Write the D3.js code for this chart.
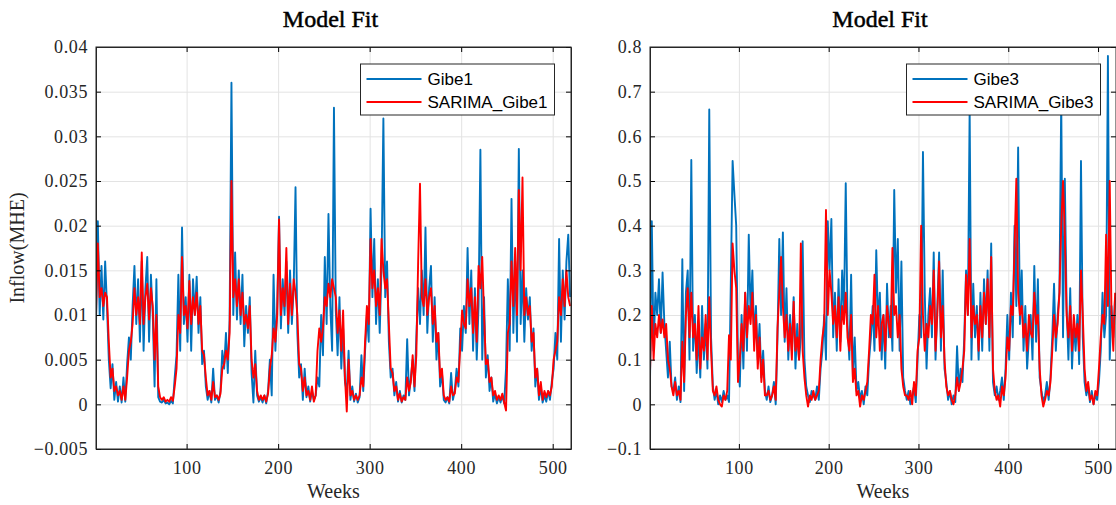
<!DOCTYPE html>
<html>
<head>
<meta charset="utf-8">
<script src="https://cdn.jsdelivr.net/npm/d3@7"></script>
<style>
  body { margin: 0; background: #fff; }
  svg { display: block; }
</style>
</head>
<body>
<svg width="1116" height="505"></svg>
<script>
// weekly inflow, sampled every 2nd week (weeks 1,3,5,...,519)
var weekStart = 1, weekStep = 2;

var gibe1 = [
  0.0090,0.0205,0.0100,0.0155,0.0095,0.0160,0.0110,0.0050,0.0018,0.0045,0.0005,0.0025,0.0003,
  0.0020,0.0002,0.0030,0.0003,0.0045,0.0075,0.0050,0.0110,0.0155,0.0090,0.0140,0.0070,0.0160,
  0.0060,0.0130,0.0165,0.0070,0.0145,0.0100,0.0020,0.0140,0.0008,0.0003,0.0002,0.0005,0.0001,
  0.0002,0.0000,0.0004,0.0001,0.0030,0.0055,0.0145,0.0060,0.0198,0.0090,0.0120,0.0070,0.0145,
  0.0060,0.0140,0.0100,0.0143,0.0080,0.0120,0.0045,0.0060,0.0020,0.0005,0.0015,0.0002,0.0040,
  0.0005,0.0010,0.0002,0.0015,0.0060,0.0040,0.0080,0.0035,0.0095,0.0360,0.0100,0.0170,0.0095,
  0.0150,0.0090,0.0145,0.0065,0.0110,0.0080,0.0120,0.0035,0.0002,0.0060,0.0010,0.0003,0.0008,
  0.0002,0.0010,0.0001,0.0015,0.0050,0.0010,0.0145,0.0060,0.0110,0.0210,0.0085,0.0140,0.0100,
  0.0160,0.0080,0.0150,0.0090,0.0130,0.0243,0.0080,0.0030,0.0045,0.0005,0.0040,0.0008,0.0020,
  0.0003,0.0015,0.0005,0.0010,0.0030,0.0020,0.0100,0.0055,0.0165,0.0090,0.0213,0.0110,0.0060,
  0.0332,0.0105,0.0055,0.0120,0.0040,0.0085,0.0025,0.0015,0.0060,0.0005,0.0020,0.0003,0.0012,
  0.0002,0.0008,0.0055,0.0015,0.0060,0.0100,0.0070,0.0219,0.0120,0.0185,0.0090,0.0140,0.0080,
  0.0155,0.0320,0.0120,0.0160,0.0070,0.0030,0.0040,0.0010,0.0025,0.0003,0.0015,0.0002,0.0010,
  0.0005,0.0073,0.0010,0.0030,0.0050,0.0015,0.0075,0.0130,0.0090,0.0150,0.0100,0.0198,0.0080,
  0.0130,0.0155,0.0070,0.0120,0.0050,0.0080,0.0020,0.0035,0.0005,0.0002,0.0008,0.0001,0.0035,
  0.0005,0.0015,0.0040,0.0020,0.0085,0.0060,0.0110,0.0080,0.0175,0.0090,0.0150,0.0060,0.0130,
  0.0050,0.0110,0.0285,0.0050,0.0120,0.0030,0.0055,0.0015,0.0030,0.0003,0.0012,0.0001,0.0008,
  0.0002,0.0010,0.0001,0.0040,0.0140,0.0060,0.0230,0.0080,0.0160,0.0070,0.0286,0.0090,0.0150,
  0.0070,0.0130,0.0095,0.0120,0.0060,0.0085,0.0020,0.0040,0.0005,0.0020,0.0002,0.0010,0.0003,
  0.0015,0.0005,0.0025,0.0040,0.0080,0.0050,0.0185,0.0070,0.0150,0.0095,0.0160,0.0190,0.0120
];

var sarimaGibe1 = [
  0.0100,0.0180,0.0120,0.0130,0.0110,0.0125,0.0120,0.0070,0.0030,0.0040,0.0015,0.0020,0.0010,
  0.0015,0.0005,0.0020,0.0005,0.0030,0.0060,0.0070,0.0090,0.0130,0.0100,0.0120,0.0090,0.0170,
  0.0090,0.0120,0.0135,0.0095,0.0130,0.0110,0.0050,0.0100,0.0020,0.0008,0.0005,0.0008,0.0003,
  0.0005,0.0003,0.0008,0.0004,0.0020,0.0040,0.0100,0.0080,0.0165,0.0100,0.0110,0.0085,0.0138,
  0.0090,0.0120,0.0100,0.0125,0.0090,0.0110,0.0060,0.0055,0.0030,0.0010,0.0015,0.0005,0.0025,
  0.0008,0.0010,0.0005,0.0012,0.0040,0.0045,0.0060,0.0050,0.0080,0.0250,0.0120,0.0140,0.0110,
  0.0140,0.0100,0.0125,0.0090,0.0100,0.0085,0.0110,0.0050,0.0030,0.0045,0.0015,0.0005,0.0010,
  0.0005,0.0010,0.0003,0.0012,0.0040,0.0055,0.0085,0.0070,0.0100,0.0207,0.0100,0.0130,0.0110,
  0.0175,0.0090,0.0135,0.0100,0.0140,0.0125,0.0100,0.0045,0.0040,0.0015,0.0030,0.0010,0.0015,
  0.0005,0.0020,0.0003,0.0010,0.0060,0.0085,0.0070,0.0085,0.0120,0.0110,0.0135,0.0120,0.0140,
  0.0130,0.0120,0.0080,0.0105,0.0060,0.0105,0.0030,-0.0008,0.0050,0.0010,0.0015,0.0005,0.0010,
  0.0005,0.0010,0.0030,0.0020,0.0070,0.0110,0.0090,0.0185,0.0130,0.0150,0.0110,0.0130,0.0100,
  0.0185,0.0150,0.0130,0.0140,0.0090,0.0040,0.0035,0.0015,0.0020,0.0005,0.0012,0.0003,0.0008,
  0.0005,0.0030,0.0015,0.0025,0.0055,0.0020,0.0055,0.0160,0.0247,0.0120,0.0110,0.0140,0.0100,
  0.0120,0.0130,0.0090,0.0110,0.0070,0.0080,0.0030,0.0040,0.0010,0.0005,0.0008,0.0003,0.0020,
  0.0010,0.0012,0.0030,0.0025,0.0065,0.0105,0.0090,0.0085,0.0140,0.0110,0.0130,0.0080,0.0120,
  0.0070,0.0155,0.0130,0.0165,0.0100,0.0045,0.0050,0.0025,0.0030,0.0010,0.0015,0.0005,0.0010,
  0.0005,0.0012,0.0002,-0.0007,0.0080,0.0090,0.0160,0.0110,0.0175,0.0100,0.0240,0.0150,0.0254,
  0.0100,0.0120,0.0100,0.0110,0.0070,0.0080,0.0030,0.0040,0.0010,0.0025,0.0005,0.0015,0.0008,
  0.0015,0.0010,0.0020,0.0050,0.0060,0.0070,0.0120,0.0100,0.0140,0.0110,0.0150,0.0120,0.0110
];

var gibe3 = [
  0.05,0.41,0.12,0.25,0.20,0.28,0.16,0.295,0.18,0.12,0.06,0.14,0.04,
  0.03,0.06,0.01,0.04,0.005,0.325,0.03,0.25,0.30,0.10,0.547,0.12,0.20,
  0.07,0.16,0.06,0.22,0.10,0.18,0.08,0.66,0.15,0.04,0.01,0.03,0.00,
  0.02,0.005,0.03,0.01,0.02,0.005,0.27,0.545,0.47,0.40,0.10,0.04,0.20,
  0.08,0.25,0.12,0.38,0.20,0.30,0.15,0.22,0.10,0.18,0.06,0.12,0.03,
  0.01,0.04,0.005,0.02,0.05,0.00,0.15,0.37,0.20,0.385,0.14,0.26,0.10,
  0.20,0.12,0.24,0.08,0.18,0.10,0.15,0.365,0.10,0.04,0.02,0.005,0.03,
  0.02,0.01,0.04,0.01,0.08,0.12,0.20,0.10,0.41,0.30,0.415,0.15,0.25,
  0.12,0.28,0.14,0.30,0.20,0.495,0.18,0.10,0.29,0.06,0.15,0.03,0.05,
  0.01,0.03,0.00,0.04,0.02,0.10,0.15,0.22,0.12,0.345,0.18,0.25,0.10,
  0.20,0.08,0.27,0.15,0.22,0.12,0.48,0.25,0.37,0.12,0.32,0.06,0.03,
  0.01,0.03,0.00,0.02,0.04,0.005,0.10,0.20,0.15,0.565,0.25,0.08,0.20,
  0.26,0.15,0.34,0.10,0.22,0.34,0.12,0.30,0.08,0.05,0.01,0.03,0.00,
  0.02,0.005,0.13,0.03,0.08,0.05,0.15,0.30,0.20,0.66,0.10,0.27,0.15,
  0.22,0.10,0.25,0.12,0.28,0.18,0.30,0.12,0.36,0.05,0.02,0.04,0.01,
  0.03,0.06,0.01,0.08,0.20,0.10,0.25,0.15,0.40,0.22,0.575,0.18,0.30,
  0.12,0.22,0.08,0.15,0.20,0.10,0.31,0.14,0.28,0.06,0.03,0.005,0.02,
  0.05,0.01,0.06,0.15,0.27,0.12,0.20,0.25,0.68,0.15,0.505,0.22,0.10,
  0.26,0.08,0.18,0.12,0.20,0.09,0.545,0.15,0.05,0.02,0.04,0.005,0.03,
  0.00,0.02,0.01,0.05,0.12,0.25,0.15,0.20,0.78,0.10,0.22,0.15,0.24
];

var sarimaGibe3 = [
  0.07,0.22,0.10,0.18,0.15,0.20,0.16,0.19,0.15,0.18,0.10,0.08,0.04,
  0.02,0.05,0.02,0.03,0.01,0.14,0.05,0.20,0.26,0.15,0.25,0.15,0.18,
  0.10,0.22,0.08,0.15,0.12,0.20,0.10,0.24,0.12,0.03,0.02,0.04,0.01,
  0.00,-0.005,0.02,0.01,0.03,0.155,0.10,0.36,0.30,0.26,0.05,0.10,0.18,
  0.12,0.25,0.15,0.22,0.18,0.25,0.12,0.20,0.08,0.15,0.05,0.10,0.02,
  0.02,0.03,0.01,0.02,0.04,0.01,0.17,0.25,0.33,0.22,0.15,0.20,0.12,
  0.18,0.10,0.23,0.12,0.15,0.10,0.36,0.12,0.06,0.02,-0.005,0.02,0.01,
  0.03,0.01,0.02,0.03,0.10,0.15,0.18,0.435,0.20,0.30,0.25,0.18,0.22,
  0.15,0.24,0.12,0.22,0.18,0.25,0.15,0.12,0.20,0.05,0.08,0.02,0.03,
  -0.005,0.02,0.01,0.03,0.05,0.12,0.20,0.18,0.29,0.15,0.22,0.12,0.18,
  0.20,0.12,0.22,0.18,0.15,0.35,0.20,0.22,0.15,0.20,0.08,0.04,0.02,
  0.02,0.01,0.03,0.00,0.05,0.02,0.12,0.15,0.40,0.20,0.12,0.18,0.15,
  0.22,0.18,0.30,0.12,0.20,0.32,0.15,0.22,0.10,0.04,0.02,0.03,0.01,
  0.00,0.02,0.06,0.03,0.05,0.08,0.12,0.29,0.20,0.37,0.15,0.22,0.18,
  0.20,0.12,0.22,0.15,0.25,0.18,0.28,0.15,0.33,0.08,0.03,0.01,0.02,
  -0.005,0.04,0.02,0.06,0.15,0.12,0.22,0.20,0.35,0.505,0.25,0.20,0.22,
  0.15,0.18,0.12,0.20,0.16,0.15,0.25,0.18,0.20,0.08,0.02,-0.005,0.01,
  0.03,0.02,0.05,0.12,0.20,0.15,0.18,0.25,0.40,0.50,0.38,0.20,0.15,
  0.22,0.12,0.20,0.15,0.18,0.12,0.30,0.20,0.08,0.03,0.05,0.01,0.02,
  0.00,0.03,0.02,0.08,0.15,0.20,0.18,0.38,0.22,0.50,0.20,0.12,0.25
];

var xTicks = [100, 200, 300, 400, 500];
var yTicksGibe1 = [-0.005, 0, 0.005, 0.01, 0.015, 0.02, 0.025, 0.03, 0.035, 0.04];
var yTicksGibe3 = [-0.1, 0, 0.1, 0.2, 0.3, 0.4, 0.5, 0.6, 0.7, 0.8];

var blue = "#0072BD", red = "#FF0000", ink = "#262626";
var serif = "'Liberation Serif', 'Times New Roman', serif";
var sans = "'Liberation Sans', Arial, sans-serif";

var svg = d3.select("svg");

function drawPanel(p) {
  var x = d3.scaleLinear().domain([1, 520]).range([p.left, p.right]);
  var y = d3.scaleLinear().domain(p.yDomain).range([p.bottom, p.top]);
  var w = p.right - p.left, h = p.bottom - p.top;
  var fmt = d3.format("~g");

  var g = svg.append("g");

  // grid
  g.append("g")
    .attr("transform", "translate(0," + p.bottom + ")")
    .call(d3.axisBottom(x).tickValues(xTicks).tickSize(-h).tickFormat(""))
    .call(s => s.select(".domain").remove())
    .call(s => s.selectAll("line").attr("stroke", "#e3e3e3"));
  g.append("g")
    .attr("transform", "translate(" + p.left + ",0)")
    .call(d3.axisLeft(y).tickValues(p.yTicks).tickSize(-w).tickFormat(""))
    .call(s => s.select(".domain").remove())
    .call(s => s.selectAll("line").attr("stroke", "#e3e3e3"));

  // lines
  var clipId = "clip" + p.id;
  svg.append("clipPath").attr("id", clipId)
    .append("rect").attr("x", p.left).attr("y", p.top).attr("width", w).attr("height", h);

  var line = d3.line()
    .x((d, i) => x(weekStart + i * weekStep))
    .y(d => y(d));

  var lines = g.append("g").attr("clip-path", "url(#" + clipId + ")");
  lines.append("path").datum(p.obs)
    .attr("fill", "none").attr("stroke", blue).attr("stroke-width", 1.9)
    .attr("stroke-linejoin", "round").attr("d", line);
  lines.append("path").datum(p.fit)
    .attr("fill", "none").attr("stroke", red).attr("stroke-width", 1.9)
    .attr("stroke-linejoin", "round").attr("d", line);

  // axes, ticks pointing inward
  var axB = g.append("g")
    .attr("transform", "translate(0," + p.bottom + ")")
    .call(d3.axisBottom(x).tickValues(xTicks).tickSizeInner(-5).tickSizeOuter(0).tickPadding(10).tickFormat(fmt));
  var axL = g.append("g")
    .attr("transform", "translate(" + p.left + ",0)")
    .call(d3.axisLeft(y).tickValues(p.yTicks).tickSizeInner(-5).tickSizeOuter(0).tickPadding(8).tickFormat(fmt));
  g.append("g")
    .attr("transform", "translate(0," + p.top + ")")
    .call(d3.axisTop(x).tickValues(xTicks).tickSizeInner(-5).tickSizeOuter(0).tickFormat(""));
  g.append("g")
    .attr("transform", "translate(" + p.right + ",0)")
    .call(d3.axisRight(y).tickValues(p.yTicks).tickSizeInner(-5).tickSizeOuter(0).tickFormat(""));

  g.selectAll(".domain").attr("stroke", ink);
  [axB, axL].forEach(a => a
    .attr("font-family", serif).attr("font-size", 18)
    .selectAll("text")
    .attr("fill", ink).style("font-family", serif).style("font-size", "18px").style("letter-spacing", "0.6px"));
  axB.selectAll("text").attr("dy", "0.85em");

  // box outline
  g.append("rect").attr("x", p.left).attr("y", p.top).attr("width", w).attr("height", h)
    .attr("fill", "none").attr("stroke", ink).attr("stroke-width", 1);

  // title and labels
  g.append("text").attr("x", (p.left + p.right) / 2 - 3).attr("y", 27)
    .attr("text-anchor", "middle").attr("fill", "#000")
    .attr("stroke", "#000").attr("stroke-width", 0.5)
    .style("font-family", serif).style("font-size", "24px")
    .text("Model Fit");
  g.append("text").attr("x", (p.left + p.right) / 2).attr("y", 498)
    .attr("text-anchor", "middle").attr("fill", ink)
    .style("font-family", serif).style("font-size", "20px")
    .text("Weeks");
  if (p.yLabel) {
    g.append("text")
      .attr("transform", "translate(24," + (p.top + p.bottom) / 2 + ") rotate(-90)")
      .attr("text-anchor", "middle").attr("fill", ink)
      .style("font-family", serif).style("font-size", "20px")
      .text(p.yLabel);
  }

  // legend
  var lg = g.append("g").attr("transform", "translate(" + p.legendX + "," + (p.top + 17) + ")");
  lg.append("rect").attr("width", p.legendW).attr("height", 51)
    .attr("fill", "#fff").attr("stroke", ink).attr("stroke-width", 1);
  var items = [[p.names[0], blue], [p.names[1], red]];
  items.forEach(function (it, i) {
    var yy = 15 + i * 23;
    lg.append("line").attr("x1", 6).attr("x2", 61).attr("y1", yy).attr("y2", yy)
      .attr("stroke", it[1]).attr("stroke-width", 1.8);
    lg.append("text").attr("x", 67).attr("y", yy).attr("dy", "0.35em")
      .attr("fill", "#000").style("font-family", sans).style("font-size", "17px")
      .text(it[0]);
  });
}

drawPanel({
  id: 1, left: 96, right: 571, top: 47, bottom: 449,
  yDomain: [-0.005, 0.04], yTicks: yTicksGibe1,
  obs: gibe1, fit: sarimaGibe1, names: ["Gibe1", "SARIMA_Gibe1"],
  legendX: 360.5, legendW: 194, yLabel: "Inflow(MHE)"
});

drawPanel({
  id: 2, left: 650, right: 1116, top: 47, bottom: 449,
  yDomain: [-0.1, 0.8], yTicks: yTicksGibe3,
  obs: gibe3, fit: sarimaGibe3, names: ["Gibe3", "SARIMA_Gibe3"],
  legendX: 906.5, legendW: 194, yLabel: null
});
</script>
</body>
</html>
